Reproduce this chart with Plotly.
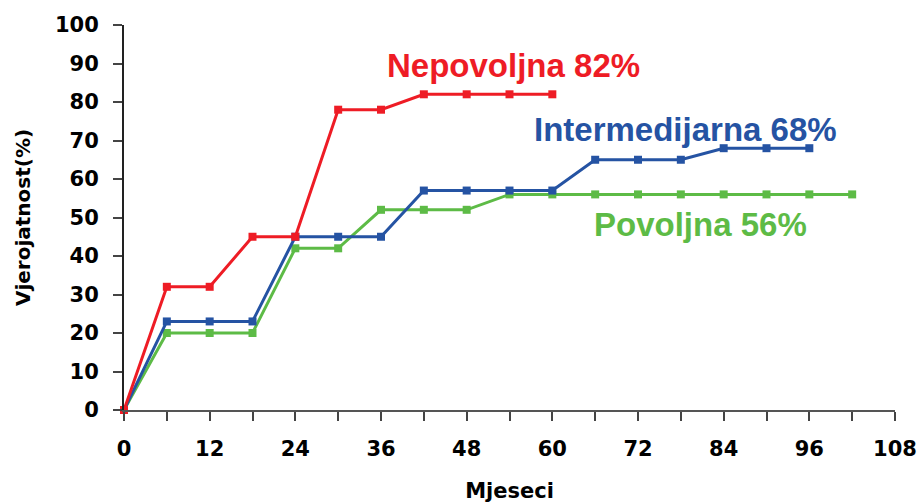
import plotly.graph_objects as go

months_red = [0, 6, 12, 18, 24, 30, 36, 42, 48, 54, 60]
nepovoljna = [0, 32, 32, 45, 45, 78, 78, 82, 82, 82, 82]

months_blue = [0, 6, 12, 18, 24, 30, 36, 42, 48, 54, 60, 66, 72, 78, 84, 90, 96]
intermedijarna = [0, 23, 23, 23, 45, 45, 45, 57, 57, 57, 57, 65, 65, 65, 68, 68, 68]

months_green = [0, 6, 12, 18, 24, 30, 36, 42, 48, 54, 60, 66, 72, 78, 84, 90, 96, 102]
povoljna = [0, 20, 20, 20, 42, 42, 52, 52, 52, 56, 56, 56, 56, 56, 56, 56, 56, 56]

x_ticks = list(range(0, 109, 6))
x_ticktext = [str(v) if v % 12 == 0 else "" for v in x_ticks]
y_ticks = list(range(0, 101, 10))

RED = "#EE1C25"
BLUE = "#2553A3"
GREEN = "#5DBB46"

fig = go.Figure()
for xs, ys, col in [(months_green, povoljna, GREEN),
                    (months_blue, intermedijarna, BLUE),
                    (months_red, nepovoljna, RED)]:
    fig.add_trace(go.Scatter(x=xs, y=ys, mode="lines+markers",
                             line=dict(color=col, width=3),
                             marker=dict(symbol="square", size=8, color=col),
                             cliponaxis=False, showlegend=False))

ann_font = "Liberation Sans, Arial, sans-serif"
fig.add_annotation(x=36.6, y=89.4, xref="x", yref="y", text="<b>Nepovoljna 82%</b>",
                   showarrow=False, xanchor="left", yanchor="middle",
                   font=dict(family=ann_font, size=33, color=RED))
fig.add_annotation(x=57.2, y=72.8, xref="x", yref="y", text="<b>Intermedijarna 68%</b>",
                   showarrow=False, xanchor="left", yanchor="middle",
                   font=dict(family=ann_font, size=33, color=BLUE))
fig.add_annotation(x=65.6, y=48.2, xref="x", yref="y", text="<b>Povoljna 56%</b>",
                   showarrow=False, xanchor="left", yanchor="middle",
                   font=dict(family=ann_font, size=33, color=GREEN))

tick_font = dict(family="DejaVu Sans, sans-serif", size=21, color="black", weight="bold")

fig.update_layout(
    width=920, height=504,
    margin=dict(l=124, r=25, t=25, b=94),
    paper_bgcolor="white", plot_bgcolor="white",
    xaxis=dict(range=[0, 108], tickmode="array", tickvals=x_ticks, ticktext=x_ticktext,
               ticks="outside", ticklen=9, tickwidth=1.5, tickcolor="#444",
               showline=True, linecolor="#555", linewidth=2, showgrid=False, zeroline=False,
               tickfont=tick_font, ticklabelstandoff=10, automargin=False,
               ticklabeloverflow="allow",
               title=dict(text="<b>Mjeseci</b>", standoff=23,
                          font=dict(family="DejaVu Sans, sans-serif", size=21, color="black"))),
    yaxis=dict(range=[0, 100], tickmode="array", tickvals=y_ticks,
               ticks="outside", ticklen=9, tickwidth=1.5, tickcolor="#444",
               showline=True, linecolor="#222", linewidth=2, showgrid=False, zeroline=False,
               tickfont=tick_font, ticklabelstandoff=10, automargin=False,
               title=dict(text="<b>Vjerojatnost(%)</b>", standoff=19,
                          font=dict(family="DejaVu Sans, sans-serif", size=20, color="black"))),
)

fig.write_html("out.html", config={"displayModeBar": False},
               post_script="document.body.style.margin='0';document.body.style.overflow='hidden';")
